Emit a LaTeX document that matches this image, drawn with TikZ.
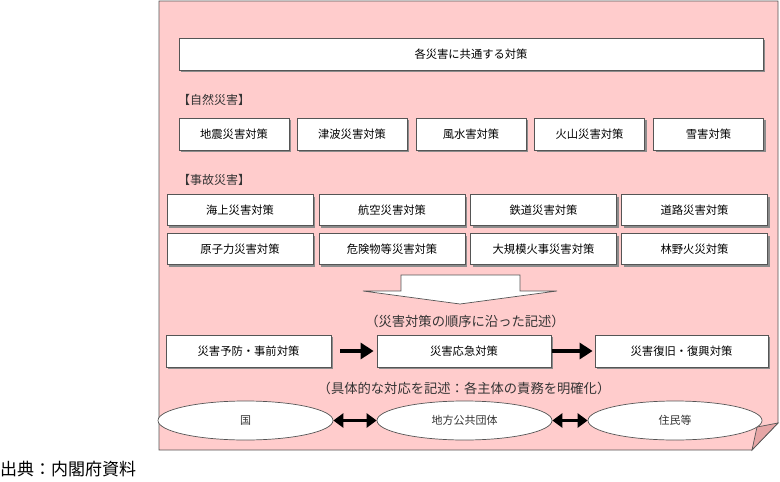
\documentclass[tikz,border=0pt]{standalone}
\usepackage{fontspec}
\setmainfont{Noto Sans CJK JP}
\usetikzlibrary{shapes.geometric,shadows,arrows.meta}
\definecolor{pagepink}{HTML}{FFCCCC}
\definecolor{flappink}{HTML}{E6A6A6}
\definecolor{edge}{HTML}{555555}
\definecolor{labeltext}{HTML}{333333}
\begin{document}
\begin{tikzpicture}[x=1pt,y=-1pt,
  box/.style={draw=edge,fill=white,line width=0.8pt,inner sep=0pt,minimum height=32pt,
    font=\fontsize{11.3}{13}\selectfont,text=black,
    drop shadow={shadow xshift=2pt,shadow yshift=-2pt,fill=black!45,opacity=1}},
  oval/.style={ellipse,draw=edge,fill=white,line width=0.7pt,inner sep=0pt,minimum width=175pt,minimum height=39pt,
    font=\fontsize{11}{12}\selectfont,text=labeltext},
  grouplabel/.style={anchor=west,inner sep=0pt,font=\fontsize{12}{13}\selectfont,text=labeltext},
  note/.style={inner sep=0pt,font=\fontsize{13.3}{15}\selectfont,text=labeltext},
  flow/.style={line width=4.5pt,-{Triangle[length=13pt,width=16pt]}},
  both/.style={line width=3.5pt,{Triangle[length=10pt,width=14pt]}-{Triangle[length=10pt,width=14pt]}}]
\useasboundingbox (0,0) rectangle (780,482);
% page
\path[fill=pagepink,draw=edge,line width=0.8pt] (159,1) -- (778,1) -- (778,423) -- (752,450) -- (159,450) -- cycle;
\path[fill=flappink,draw=edge,line width=0.7pt] (778,423) -- (757,427) -- (752,450) -- cycle;
% common
\node[box,minimum width=584pt] (common) at (471,54) {各災害に共通する対策};
\node[grouplabel] (natlabel) at (178,100) {【自然災害】};
\node[box,minimum width=110pt] (n1) at (234,134) {地震災害対策};
\node[box,minimum width=110pt] (n2) at (352,134) {津波災害対策};
\node[box,minimum width=110pt] (n3) at (471,134) {風水害対策};
\node[box,minimum width=110pt] (n4) at (589.5,134) {火山災害対策};
\node[box,minimum width=110pt] (n5) at (708.5,134) {雪害対策};
\node[grouplabel] (acclabel) at (178,180) {【事故災害】};
\node[box,minimum width=146pt,minimum height=31pt] (a1) at (240,210) {海上災害対策};
\node[box,minimum width=146pt,minimum height=31pt] (a2) at (392,210) {航空災害対策};
\node[box,minimum width=146pt,minimum height=31pt] (a3) at (543.5,210) {鉄道災害対策};
\node[box,minimum width=146pt,minimum height=31pt] (a4) at (694.5,210) {道路災害対策};
\node[box,minimum width=146pt,minimum height=31pt] (a5) at (240,249) {原子力災害対策};
\node[box,minimum width=146pt,minimum height=31pt] (a6) at (392,249) {危険物等災害対策};
\node[box,minimum width=146pt,minimum height=31pt] (a7) at (543.5,249) {大規模火事災害対策};
\node[box,minimum width=146pt,minimum height=31pt] (a8) at (694.5,249) {林野火災対策};
% big hollow arrow
\path[fill=white,draw=edge,line width=0.7pt] (401,275) -- (520,275) -- (520,291) -- (557,291) -- (460,304) -- (363,291) -- (401,291) -- cycle;
\node[note] (order) at (465,321) {（災害対策の順序に沿った記述）};
% process
\node[box,minimum width=165pt] (p1) at (248.5,351) {災害予防・事前対策};
\node[box,minimum width=174pt] (p2) at (464,351) {災害応急対策};
\node[box,minimum width=173pt] (p3) at (681.5,351) {災害復旧・復興対策};
\draw[flow,shorten <=9pt,shorten >=3pt] (p1.east) -- (p2.west);
\draw[flow,shorten <=1pt,shorten >=2pt] (p2.east) -- (p3.west);
\node[note] (roles) at (464,388) {（具体的な対応を記述：各主体の責務を明確化）};
% actors
\node[oval] (kuni) at (245.5,420.5) {国};
\node[oval] (local) at (464.5,420.5) {地方公共団体};
\node[oval,minimum width=174pt] (resid) at (675,420.5) {住民等};
\draw[both] (kuni.east) -- (local.west);
\draw[both] (local.east) -- (resid.west);
\node[anchor=west,inner sep=0pt,font=\fontsize{17}{19}\selectfont,text=black] (src) at (0,469) {出典：内閣府資料};
\end{tikzpicture}
\end{document}
